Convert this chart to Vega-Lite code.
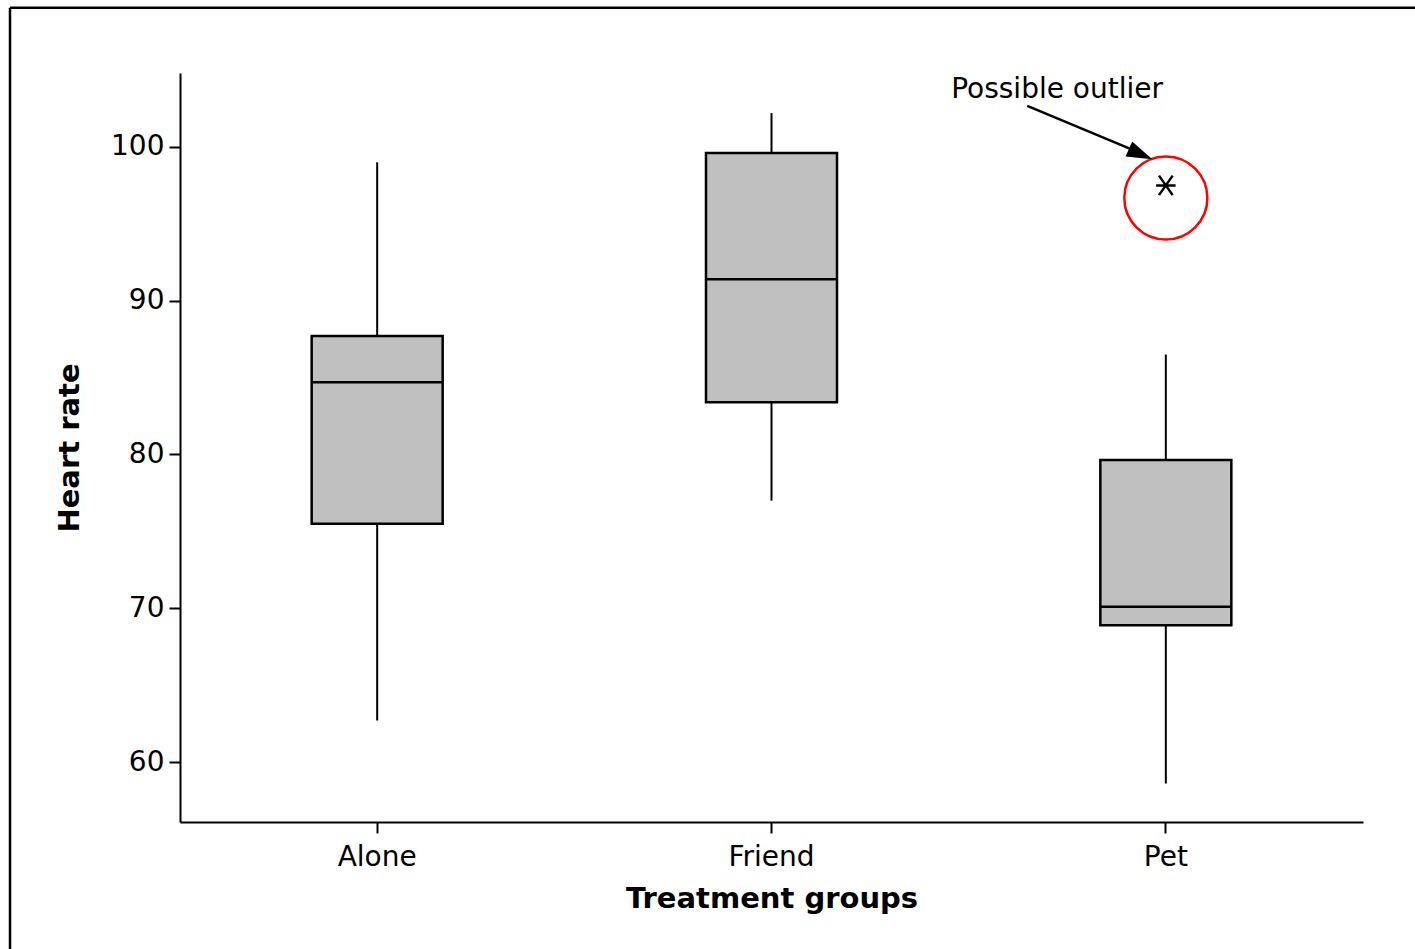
{
  "$schema": "https://vega.github.io/schema/vega-lite/v6.json",
  "width": 1183,
  "height": 749,
  "autosize": {"type": "none"},
  "padding": {"left": 180, "top": 73, "right": 52, "bottom": 127},
  "background": "white",
  "config": {
    "view": {"stroke": null},
    "font": "DejaVu Sans",
    "axis": {
      "domainColor": "black",
      "domainWidth": 2,
      "tickColor": "black",
      "tickWidth": 2,
      "tickSize": 11,
      "labelFont": "DejaVu Sans",
      "labelFontSize": 28,
      "labelColor": "black",
      "titleFont": "DejaVu Sans",
      "titleFontSize": 29,
      "titleFontWeight": "bold",
      "titleColor": "black",
      "grid": false
    }
  },
  "data": {
    "values": [
      {"group": "Alone", "lower": 62.7, "q1": 75.5, "median": 84.7, "q3": 87.7, "upper": 99.0},
      {"group": "Friend", "lower": 77.0, "q1": 83.4, "median": 91.4, "q3": 99.6, "upper": 102.2},
      {"group": "Pet", "lower": 58.6, "q1": 68.9, "median": 70.1, "q3": 79.65, "upper": 86.5, "outlier": 97.5}
    ]
  },
  "layer": [
    {
      "layer": [
        {
          "mark": {"type": "rule", "color": "black", "strokeWidth": 2},
          "encoding": {
            "x": {"field": "group", "type": "nominal", "sort": null,
                  "scale": {"paddingInner": 0, "paddingOuter": 0},
                  "axis": {"title": "Treatment groups", "labelAngle": 0, "labelPadding": 10, "titlePadding": 13}},
            "y": {"field": "lower", "type": "quantitative",
                  "scale": {"domain": [56.1, 104.81], "nice": false, "zero": false},
                  "axis": {"title": "Heart rate", "values": [60, 70, 80, 90, 100], "labelPadding": 5, "titlePadding": 26}},
            "y2": {"field": "q1"}
          }
        },
        {
          "mark": {"type": "rule", "color": "black", "strokeWidth": 2},
          "encoding": {
            "x": {"field": "group", "type": "nominal", "sort": null},
            "y": {"field": "q3", "type": "quantitative", "scale": {"domain": [56.1, 104.81], "nice": false, "zero": false}},
            "y2": {"field": "upper"}
          }
        },
        {
          "mark": {"type": "bar", "size": 131, "fill": "#c0c0c0", "stroke": "black", "strokeWidth": 2.5},
          "encoding": {
            "x": {"field": "group", "type": "nominal", "sort": null},
            "y": {"field": "q1", "type": "quantitative", "scale": {"domain": [56.1, 104.81], "nice": false, "zero": false}},
            "y2": {"field": "q3"}
          }
        },
        {
          "mark": {"type": "tick", "size": 131, "thickness": 2.5, "color": "black", "opacity": 1},
          "encoding": {
            "x": {"field": "group", "type": "nominal", "sort": null},
            "y": {"field": "median", "type": "quantitative", "scale": {"domain": [56.1, 104.81], "nice": false, "zero": false}}
          }
        },
        {
          "mark": {"type": "point", "shape": "M-1,0L1,0M-0.7,-1L0.7,1M-0.7,1L0.7,-1", "size": 380, "stroke": "black", "strokeWidth": 2.5, "filled": false, "opacity": 1},
          "encoding": {
            "x": {"field": "group", "type": "nominal", "sort": null},
            "y": {"field": "outlier", "type": "quantitative", "scale": {"domain": [56.1, 104.81], "nice": false, "zero": false}}
          }
        },
        {
          "data": {"values": [{}]},
          "mark": {"type": "point", "shape": "circle", "size": 6900, "stroke": "#ff0000", "strokeWidth": 2.5, "filled": false, "opacity": 1},
          "encoding": {
            "x": {"datum": "Pet", "type": "nominal"},
            "y": {"datum": 96.68, "type": "quantitative", "scale": {"domain": [56.1, 104.81], "nice": false, "zero": false}}
          }
        }
      ]
    },
    {
      "data": {"values": [{}]},
      "layer": [
        {
          "mark": {"type": "rule", "color": "black", "strokeWidth": 2.5},
          "encoding": {
            "x": {"datum": -0.4311, "type": "quantitative", "scale": {"domain": [0, 3], "nice": false, "zero": false}, "axis": null},
            "y": {"datum": 109.05, "type": "quantitative", "scale": {"domain": [56.1, 104.81], "nice": false, "zero": false}},
            "y2": {"datum": 40}
          }
        },
        {
          "mark": {"type": "rule", "color": "black", "strokeWidth": 2.5},
          "encoding": {
            "x": {"datum": -0.4311, "type": "quantitative", "scale": {"domain": [0, 3], "nice": false, "zero": false}, "axis": null},
            "x2": {"datum": 4},
            "y": {"datum": 109.05, "type": "quantitative", "scale": {"domain": [56.1, 104.81], "nice": false, "zero": false}}
          }
        },
        {
          "mark": {"type": "rule", "color": "black", "strokeWidth": 2.5},
          "encoding": {
            "x": {"datum": 2.1486, "type": "quantitative", "scale": {"domain": [0, 3], "nice": false, "zero": false}, "axis": null},
            "x2": {"datum": 2.445},
            "y": {"datum": 102.67, "type": "quantitative", "scale": {"domain": [56.1, 104.81], "nice": false, "zero": false}},
            "y2": {"datum": 99.5}
          }
        },
        {
          "mark": {"type": "point", "shape": "M0,0L-2,-0.65L-2,0.65Z", "size": 650, "angle": 23.7, "filled": true, "color": "black", "opacity": 1, "strokeWidth": 0},
          "encoding": {
            "x": {"datum": 2.4655, "type": "quantitative", "scale": {"domain": [0, 3], "nice": false, "zero": false}, "axis": null},
            "y": {"datum": 99.2, "type": "quantitative", "scale": {"domain": [56.1, 104.81], "nice": false, "zero": false}}
          }
        },
        {
          "mark": {"type": "text", "text": "Possible outlier", "font": "DejaVu Sans", "fontSize": 28, "color": "black", "align": "center", "baseline": "alphabetic"},
          "encoding": {
            "x": {"datum": 2.2242, "type": "quantitative", "scale": {"domain": [0, 3], "nice": false, "zero": false}, "axis": null},
            "y": {"datum": 103.17, "type": "quantitative", "scale": {"domain": [56.1, 104.81], "nice": false, "zero": false}}
          }
        }
      ]
    }
  ],
  "resolve": {"scale": {"x": "independent"}}
}
